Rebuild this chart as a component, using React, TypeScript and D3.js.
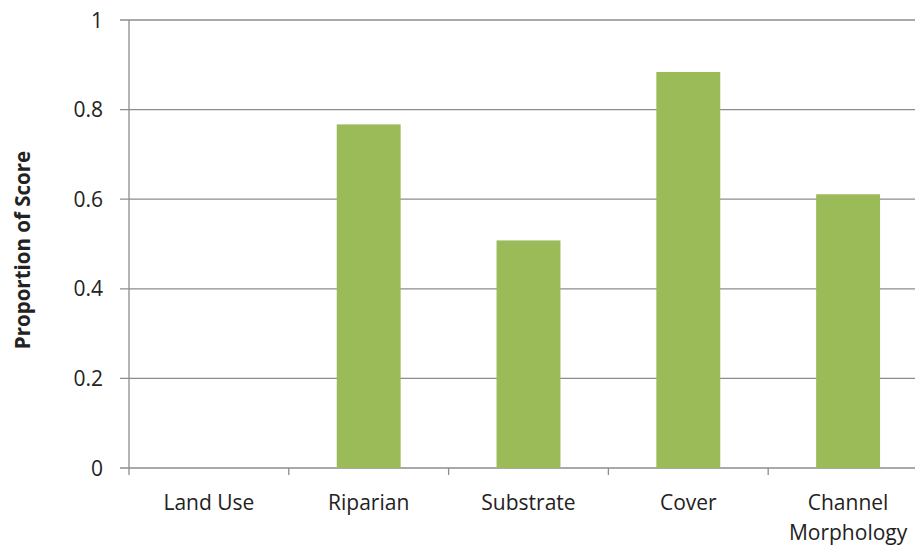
import React from "react";
import * as d3 from "d3";

const categories = ["Land Use", "Riparian", "Substrate", "Cover", "Channel Morphology"];
const values = [0, 0.767, 0.508, 0.884, 0.611];
const yTicks = [0, 0.2, 0.4, 0.6, 0.8, 1];

const W = 915;
const H = 548;
const left = 129;
const right = 928;
const top = 20;
const bottom = 468;
const font = "'Open Sans', 'Noto Sans', sans-serif";

export default function App() {
  const x = d3.scaleBand<string>().domain(categories).range([left, right]).paddingInner(0.6).paddingOuter(0.3);
  const xOuter = d3.scaleBand<string>().domain(categories).range([left, right]);
  const y = d3.scaleLinear().domain([0, 1]).range([bottom, top]);

  return (
    <svg width={W} height={H} style={{ position: "absolute", left: 0, top: 0, background: "#fff" }}>
      {yTicks.map((t) => (
        <g key={t}>
          <line x1={left - 9} x2={W} y1={y(t)} y2={y(t)} stroke="#8c8c8c" strokeWidth={1.3} />
          <text x={103} y={y(t)} dy="0.36em" textAnchor="end" fontFamily={font} fontSize={21} fill="#222">
            {String(t)}
          </text>
        </g>
      ))}
      <line x1={left} x2={left} y1={top} y2={bottom + 7} stroke="#8c8c8c" strokeWidth={1.3} />
      {categories.map((c) => (
        <line key={c} x1={(xOuter(c) ?? 0) + xOuter.bandwidth()} x2={(xOuter(c) ?? 0) + xOuter.bandwidth()} y1={bottom} y2={bottom + 7} stroke="#8c8c8c" strokeWidth={1.3} />
      ))}
      {categories.map((c, i) =>
        values[i] > 0 ? (
          <rect key={c} x={x(c)} y={y(values[i])} width={x.bandwidth()} height={bottom - y(values[i])} fill="#9bbb59" />
        ) : null
      )}
      {categories.map((c) => {
        const cx = (xOuter(c) ?? 0) + xOuter.bandwidth() / 2;
        const words = c === "Channel Morphology" ? ["Channel", "Morphology"] : [c];
        return (
          <text key={c} x={cx} y={510} textAnchor="middle" fontFamily={font} fontSize={21} fill="#222">
            {words.map((w, k) => (
              <tspan key={w} x={cx} dy={k === 0 ? 0 : 30}>{w}</tspan>
            ))}
          </text>
        );
      })}
      <text transform="translate(30,250) rotate(-90)" textAnchor="middle" fontFamily={font} fontSize={20.5} fontWeight="bold" fill="#222">
        Proportion of Score
      </text>
    </svg>
  );
}
